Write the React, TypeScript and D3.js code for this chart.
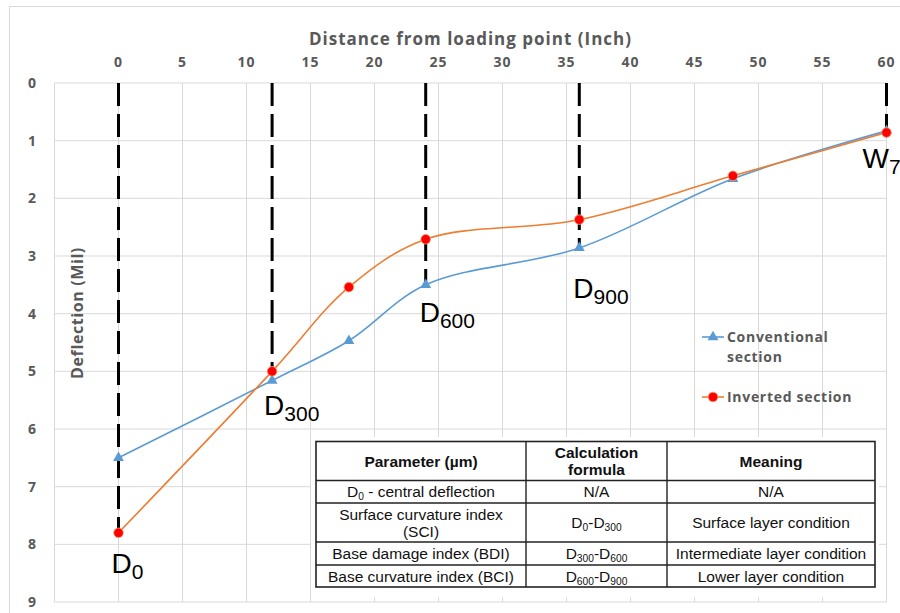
import React from "react";
import * as d3 from "d3";

// Sensor offsets from the loading point (inch)
const distances = [0, 12, 18, 24, 36, 48, 60];
// Deflection (mil) for each section
const conventional = [6.5, 5.16, 4.47, 3.5, 2.86, 1.66, 0.83];
const inverted = [7.8, 5.0, 3.54, 2.71, 2.37, 1.61, 0.86];

const xTicks = [0, 5, 10, 15, 20, 25, 30, 35, 40, 45, 50, 55, 60];
const xGrid = [-5, 0, 5, 10, 15, 20, 25, 30, 35, 40, 45, 50, 55, 60];
const yTicks = [0, 1, 2, 3, 4, 5, 6, 7, 8, 9];

// Geophone markers: position, how deep the dashed guide runs, label text and label depth
const sensorX = [0, 12, 24, 36, 60];
const sensorDepth = [7.8, 5.0, 3.5, 2.86, 0.85];
const sensorMain = ["D", "D", "D", "D", "W"];
const sensorSub = ["0", "300", "600", "900", "7"];
const sensorLabelDepth = [8.5, 5.76, 4.14, 3.73, 1.47];
const sensorLabelDx = [-7, -8, -6, -6, -24];

// Index table
const tableHeader = ["Parameter (µm)", "Calculation\nformula", "Meaning"];
const tableRows = [
  ["D_0 - central deflection", "N/A", "N/A"],
  ["Surface curvature index\n(SCI)", "D_0-D_300", "Surface layer condition"],
  ["Base damage index (BDI)", "D_300-D_600", "Intermediate layer condition"],
  ["Base curvature index (BCI)", "D_600-D_900", "Lower layer condition"],
];

const W = 900;
const H = 613;
const plot = { left: 54.5, right: 886.5, top: 83, bottom: 602 };
const axisFont = "'Open Sans', sans-serif";
const tableFont = "'Liberation Sans', Arial, sans-serif";
const gray = "#595959";
const gridColor = "#d9d9d9";
const blue = "#5B9BD5";
const orange = "#ED7D31";

// Text with "_123" runs drawn as subscripts
function RichText({ text, x, y, size, weight }: { text: string; x: number; y: number; size: number; weight?: number }) {
  const parts = text.split(/_(\d+)/);
  const shift = 3;
  let inSub = false;
  const nodes: React.ReactNode[] = [];
  parts.forEach((p, i) => {
    if (p === "") return;
    const wantSub = i % 2 === 1;
    const dy = wantSub === inSub ? 0 : wantSub ? shift : -shift;
    inSub = wantSub;
    nodes.push(
      <tspan key={i} dy={dy} fontSize={wantSub ? size * 0.66 : size}>
        {p}
      </tspan>
    );
  });
  return (
    <text x={x} y={y} fontSize={size} fontWeight={weight || 400} fontFamily={tableFont} textAnchor="middle" fill="#111">
      {nodes}
    </text>
  );
}

export default function App() {
  const x = d3.scaleLinear().domain([-5, 60]).range([plot.left, plot.right]);
  const y = d3.scaleLinear().domain([0, 9]).range([plot.top, plot.bottom]);

  const line = d3
    .line<number>()
    .x((_, i) => x(distances[i]))
    .y((d) => y(d))
    .curve(d3.curveCatmullRom.alpha(0.5));

  const tri = d3.symbol().type(d3.symbolTriangle).size(52)()!;

  // Table geometry
  const colX = [316, 526, 667, 875];
  const rowY = [441.5, 480.5, 503, 542, 565, 587];
  const allRows = [tableHeader, ...tableRows];
  const fs = 15.5;

  return (
    <svg width={W} height={H} style={{ position: "absolute", left: 0, top: 0, background: "#fff" }}>
      <rect x={9.5} y={6.5} width={W + 10} height={H + 10} fill="#fff" stroke={gridColor} />

      {/* grid */}
      {xGrid.map((v) => (
        <line key={"gx" + v} x1={x(v)} x2={x(v)} y1={plot.top} y2={plot.bottom} stroke={gridColor} />
      ))}
      {yTicks.map((v) => (
        <line key={"gy" + v} x1={plot.left} x2={plot.right} y1={y(v)} y2={y(v)} stroke={gridColor} />
      ))}

      {/* axis ticks and titles */}
      {xTicks.map((v) => (
        <text key={"tx" + v} x={x(v)} y={67} textAnchor="middle" fontFamily={axisFont} fontWeight={700} fontSize={14} letterSpacing={1} fill={gray}>
          {v}
        </text>
      ))}
      {yTicks.map((v) => (
        <text key={"ty" + v} x={32} y={y(v) + 5} textAnchor="middle" fontFamily={axisFont} fontWeight={700} fontSize={14} fill={gray}>
          {v}
        </text>
      ))}
      <text x={(plot.left + plot.right) / 2} y={45} textAnchor="middle" fontFamily={axisFont} fontWeight={700} fontSize={17} letterSpacing={1} fill={gray}>
        Distance from loading point (Inch)
      </text>
      <text
        transform="translate(83,313) rotate(-90)"
        textAnchor="middle"
        fontFamily={axisFont}
        fontWeight={700}
        fontSize={16}
        letterSpacing={0.6}
        fill={gray}
      >
        Deflection (Mil)
      </text>

      {/* dashed sensor guides */}
      {sensorX.map((v, i) => (
        <line
          key={"s" + v}
          x1={x(v)}
          x2={x(v)}
          y1={plot.top}
          y2={y(sensorDepth[i])}
          stroke="#000"
          strokeWidth={3}
          strokeDasharray="23 8"
        />
      ))}

      {/* series */}
      <path d={line(conventional)!} fill="none" stroke={blue} strokeWidth={1.6} />
      <path d={line(inverted)!} fill="none" stroke={orange} strokeWidth={1.6} />
      {conventional.map((v, i) => (
        <path key={"c" + i} d={tri} transform={`translate(${x(distances[i])},${y(v)})`} fill={blue} />
      ))}
      {inverted.map((v, i) => (
        <circle key={"r" + i} cx={x(distances[i])} cy={y(v)} r={4.8} fill="#ff0000" stroke="#f4a070" strokeWidth={0.8} />
      ))}

      {/* sensor labels */}
      {sensorX.map((v, i) => (
        <text
          key={"l" + v}
          x={x(v) + sensorLabelDx[i]}
          y={y(sensorLabelDepth[i])}
          fontFamily={tableFont}
          fontSize={28}
          fill="#000"
        >
          {sensorMain[i]}
          <tspan fontSize={21} dy={6}>
            {sensorSub[i]}
          </tspan>
        </text>
      ))}

      {/* legend */}
      <g fontFamily={axisFont} fontWeight={700} fontSize={14} letterSpacing={0.7} fill={gray}>
        <line x1={702} x2={724} y1={337} y2={337} stroke={blue} strokeWidth={1.6} />
        <path d={tri} transform="translate(713,337)" fill={blue} />
        <text x={727} y={342}>Conventional</text>
        <text x={727} y={362}>section</text>
        <line x1={702} x2={724} y1={397} y2={397} stroke={orange} strokeWidth={1.6} />
        <circle cx={713} cy={397} r={4.8} fill="#ff0000" stroke="#f4a070" strokeWidth={0.8} />
        <text x={727} y={402}>Inverted section</text>
      </g>

      {/* index table */}
      <rect x={311} y={437} width={568} height={160} fill="#fff" />
      <rect
        x={colX[0]}
        y={rowY[0]}
        width={colX[3] - colX[0]}
        height={rowY[5] - rowY[0]}
        fill="#fff"
        stroke="#222"
        strokeWidth={1.6}
      />
      {rowY.slice(1, 5).map((ry) => (
        <line key={"rl" + ry} x1={colX[0]} x2={colX[3]} y1={ry} y2={ry} stroke="#222" strokeWidth={1.4} />
      ))}
      {colX.slice(1, 3).map((cx) => (
        <line key={"cl" + cx} x1={cx} x2={cx} y1={rowY[0]} y2={rowY[5]} stroke="#222" strokeWidth={1.4} />
      ))}
      {allRows.map((row, r) =>
        row.map((cell, c) => {
          const lines = cell.split("\n");
          const mid = (rowY[r] + rowY[r + 1]) / 2;
          const cx = (colX[c] + colX[c + 1]) / 2;
          return lines.map((t, k) => (
            <RichText
              key={`${r}-${c}-${k}`}
              text={t}
              x={cx}
              y={mid + 5.5 + (k - (lines.length - 1) / 2) * 17}
              size={fs}
              weight={r === 0 ? 700 : 400}
            />
          ));
        })
      )}
    </svg>
  );
}
